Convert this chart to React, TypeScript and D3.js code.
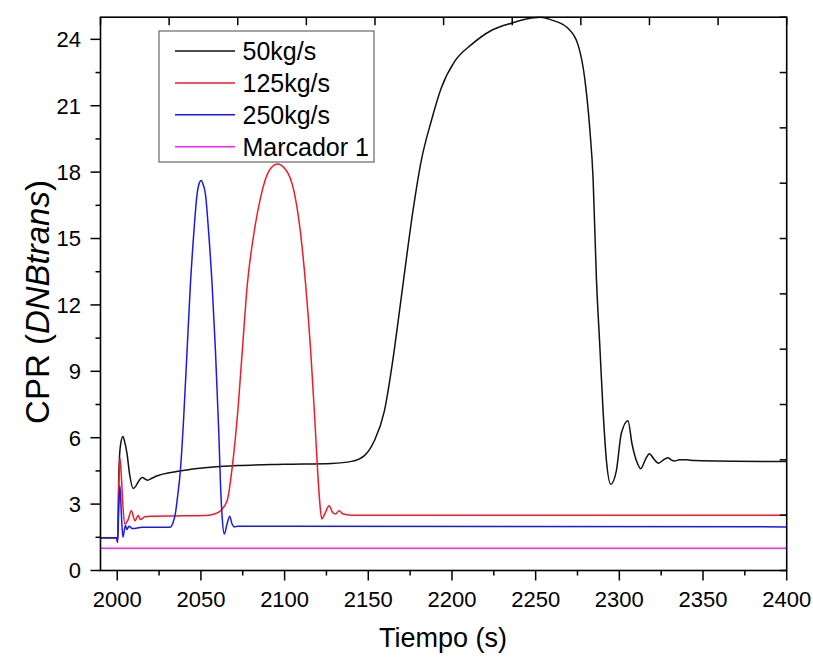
import React, { useEffect } from "react";
import * as d3 from "d3";

// ---- data ----
const seriesNames = ["50kg/s", "125kg/s", "250kg/s", "Marcador 1"];
const seriesColors = ["#111111", "#ee1c2a", "#1a1ae6", "#ff22ff"];

const time50 = [1990, 1999.8, 2000.2, 2001, 2002, 2003.4, 2004.5, 2005.8, 2007.5, 2009.5, 2011, 2012.5, 2015, 2018, 2021, 2024, 2032, 2044, 2072, 2100, 2128, 2140, 2147.7, 2153.6, 2159.6, 2164.6, 2168.6, 2172.6, 2176.6, 2181.6, 2187.6, 2193.6, 2201.6, 2211.6, 2223.5, 2235.5, 2247.5, 2253, 2259.3, 2269.3, 2275.3, 2279.3, 2282.3, 2284.3, 2286.3, 2288.3, 2290.3, 2292.3, 2294.9, 2298.2, 2301.2, 2305.2, 2307.5, 2310.5, 2312.8, 2315.5, 2318, 2320.5, 2323.5, 2326, 2329, 2331, 2333, 2336, 2340, 2345, 2400];
const cpr50 = [1.48, 1.48, 1.28, 4.5, 5.7, 6.06, 5.8, 5.3, 4.3, 3.71, 3.8, 4.0, 4.2, 4.08, 4.18, 4.28, 4.43, 4.57, 4.74, 4.8, 4.84, 4.93, 5.19, 5.86, 7.2, 9.47, 11.7, 14.0, 16.2, 18.5, 20.3, 21.8, 23.0, 23.76, 24.4, 24.73, 24.96, 25.0, 24.88, 24.5, 23.76, 22.25, 20.0, 17.74, 13.2, 10.2, 7.2, 4.96, 3.9, 4.5, 6.2, 6.77, 5.75, 4.9, 4.6, 5.0, 5.28, 5.05, 4.85, 4.98, 5.1, 5.0, 4.95, 5.0, 5.0, 4.97, 4.92];

const time125 = [1990, 1999.8, 2000.2, 2001, 2001.6, 2002.5, 2003.5, 2004.6, 2006.5, 2008.4, 2010.6, 2012.5, 2013.9, 2016.5, 2020, 2040, 2055, 2058, 2061.7, 2065.7, 2068.7, 2071.7, 2074.7, 2077.7, 2081.6, 2085.6, 2090.6, 2095.6, 2100.6, 2105.6, 2109.6, 2112.6, 2115.6, 2118, 2119.6, 2121.1, 2122.2, 2124, 2126.6, 2128.6, 2130.5, 2132.5, 2135, 2140, 2400];
const cpr125 = [1.48, 1.48, 1.28, 4.0, 5.1, 4.2, 2.8, 2.1, 2.3, 2.7, 2.25, 2.48, 2.3, 2.43, 2.45, 2.47, 2.5, 2.55, 2.7, 3.16, 4.66, 6.9, 9.9, 12.9, 15.2, 16.84, 18.04, 18.37, 18.12, 17.14, 15.2, 12.9, 9.9, 6.9, 4.66, 3.0, 2.33, 2.56, 2.93, 2.63, 2.55, 2.7, 2.55, 2.5, 2.5];

const time250 = [1990, 1999.8, 2000.2, 2001, 2001.6, 2002.5, 2003.4, 2004.9, 2005.8, 2007, 2009, 2015, 2030, 2032, 2033.5, 2034.7, 2036, 2037.7, 2039.7, 2041.7, 2043.7, 2045.7, 2047.7, 2049, 2050.1, 2051.3, 2052.7, 2054.7, 2056.7, 2058.7, 2060.7, 2061.7, 2062.7, 2064, 2065.6, 2067.2, 2068.6, 2070, 2072, 2100, 2400];
const cpr250 = [1.48, 1.48, 1.28, 3.0, 3.83, 2.5, 1.5, 2.05, 1.85, 2.0, 1.9, 1.95, 1.95, 1.97, 2.2, 2.56, 3.3, 4.5, 6.9, 9.9, 12.9, 15.2, 17.0, 17.5, 17.62, 17.45, 17.0, 15.2, 12.9, 9.9, 6.2, 3.9, 2.4, 1.65, 2.1, 2.45, 2.1, 1.97, 2.0, 2.0, 1.97];

const timeMarker = [1990, 2400];
const cprMarker = [1.0, 1.0];

const xTickValues = [2000, 2050, 2100, 2150, 2200, 2250, 2300, 2350, 2400];
const yTickValues = [0, 3, 6, 9, 12, 15, 18, 21, 24];

const xLabel = "Tiempo (s)";

const FONT = "'Liberation Sans', Arial, Helvetica, sans-serif";

export default function App() {
  useEffect(() => {
    document.body.style.margin = "0";
  }, []);

  const W = 813;
  const H = 657;
  const x = d3.scaleLinear().domain([1990, 2400]).range([100.5, 786.7]);
  const y = d3.scaleLinear().domain([0, 25]).range([570.5, 17.2]);
  const [x0, x1] = x.range();
  const [y0, y1] = y.range();

  const line = d3
    .line<[number, number]>()
    .x((d) => x(d[0]))
    .y((d) => y(d[1]))
    .curve(d3.curveMonotoneX);

  const series: [number[], number[]][] = [
    [time50, cpr50],
    [time125, cpr125],
    [time250, cpr250],
    [timeMarker, cprMarker],
  ];

  const xMinor = d3.range(2025, 2400, 50);
  const yMinor = d3.range(1.5, 25, 3);
  const topTicks = d3.range(0, 11).map((i) => x0 + ((x1 - x0) * i) / 10);
  const rightTicks = d3.range(0, 11).map((i) => y0 + ((y1 - y0) * i) / 10);

  const legendX = 159;
  const legendY = 31;
  const legendW = 215;
  const legendH = 131;
  const rowY = (i: number) => 51 + i * 31.9;

  return (
    <svg width={W} height={H} style={{ display: "block", background: "#fff" }} fontFamily={FONT}>
      <defs>
        <clipPath id="plotclip">
          <rect x={x0} y={y1 - 1} width={x1 - x0} height={y0 - y1 + 1} />
        </clipPath>
      </defs>

      {/* data lines */}
      <g clipPath="url(#plotclip)" fill="none">
        {series.map(([ts, vs], i) => (
          <path
            key={i}
            d={line(ts.map((t, j) => [t, vs[j]] as [number, number])) || ""}
            stroke={seriesColors[i]}
            strokeWidth={1.5}
            strokeLinejoin="round"
          />
        ))}
      </g>

      {/* frame */}
      <rect x={x0} y={y1} width={x1 - x0} height={y0 - y1} fill="none" stroke="#000" strokeWidth={1.6} />

      {/* bottom axis ticks */}
      {xTickValues.map((v) => (
        <g key={"xt" + v}>
          <line x1={x(v)} x2={x(v)} y1={y0} y2={y0 + 10} stroke="#000" strokeWidth={1.5} />
          <text x={x(v)} y={606.5} textAnchor="middle" fontSize={22} fill="#000">
            {v}
          </text>
        </g>
      ))}
      {xMinor.map((v) => (
        <line key={"xm" + v} x1={x(v)} x2={x(v)} y1={y0} y2={y0 + 5} stroke="#000" strokeWidth={1.5} />
      ))}

      {/* left axis ticks */}
      {yTickValues.map((v) => (
        <g key={"yt" + v}>
          <line x1={x0 - 10} x2={x0} y1={y(v)} y2={y(v)} stroke="#000" strokeWidth={1.5} />
          <text x={81} y={y(v) + 7.8} textAnchor="end" fontSize={22} fill="#000">
            {v}
          </text>
        </g>
      ))}
      {yMinor.map((v) => (
        <line key={"ym" + v} x1={x0 - 5} x2={x0} y1={y(v)} y2={y(v)} stroke="#000" strokeWidth={1.5} />
      ))}

      {/* top axis ticks (inward) */}
      {topTicks.map((px, i) => (
        <line key={"tt" + i} x1={px} x2={px} y1={y1} y2={y1 + 8} stroke="#000" strokeWidth={1.5} />
      ))}
      {/* right axis ticks (inward) */}
      {rightTicks.map((py, i) => (
        <line key={"rt" + i} x1={x1 - 7} x2={x1} y1={py} y2={py} stroke="#000" strokeWidth={1.5} />
      ))}

      {/* axis titles */}
      <text x={443} y={647} textAnchor="middle" fontSize={27} fill="#000">
        {xLabel}
      </text>
      <text transform="translate(49,302) rotate(-90)" textAnchor="middle" fontSize={33} fill="#000">
        CPR (<tspan fontStyle="italic">DNBtrans</tspan>)
      </text>

      {/* legend */}
      <rect x={legendX} y={legendY} width={legendW} height={legendH} fill="#fff" stroke="#666" strokeWidth={1.2} />
      {seriesNames.map((name, i) => (
        <g key={"lg" + i}>
          <line x1={175} x2={235} y1={rowY(i)} y2={rowY(i)} stroke={seriesColors[i]} strokeWidth={1.5} />
          <text x={242.5} y={rowY(i) + 8.8} fontSize={25} fill="#000">
            {name}
          </text>
        </g>
      ))}
    </svg>
  );
}
